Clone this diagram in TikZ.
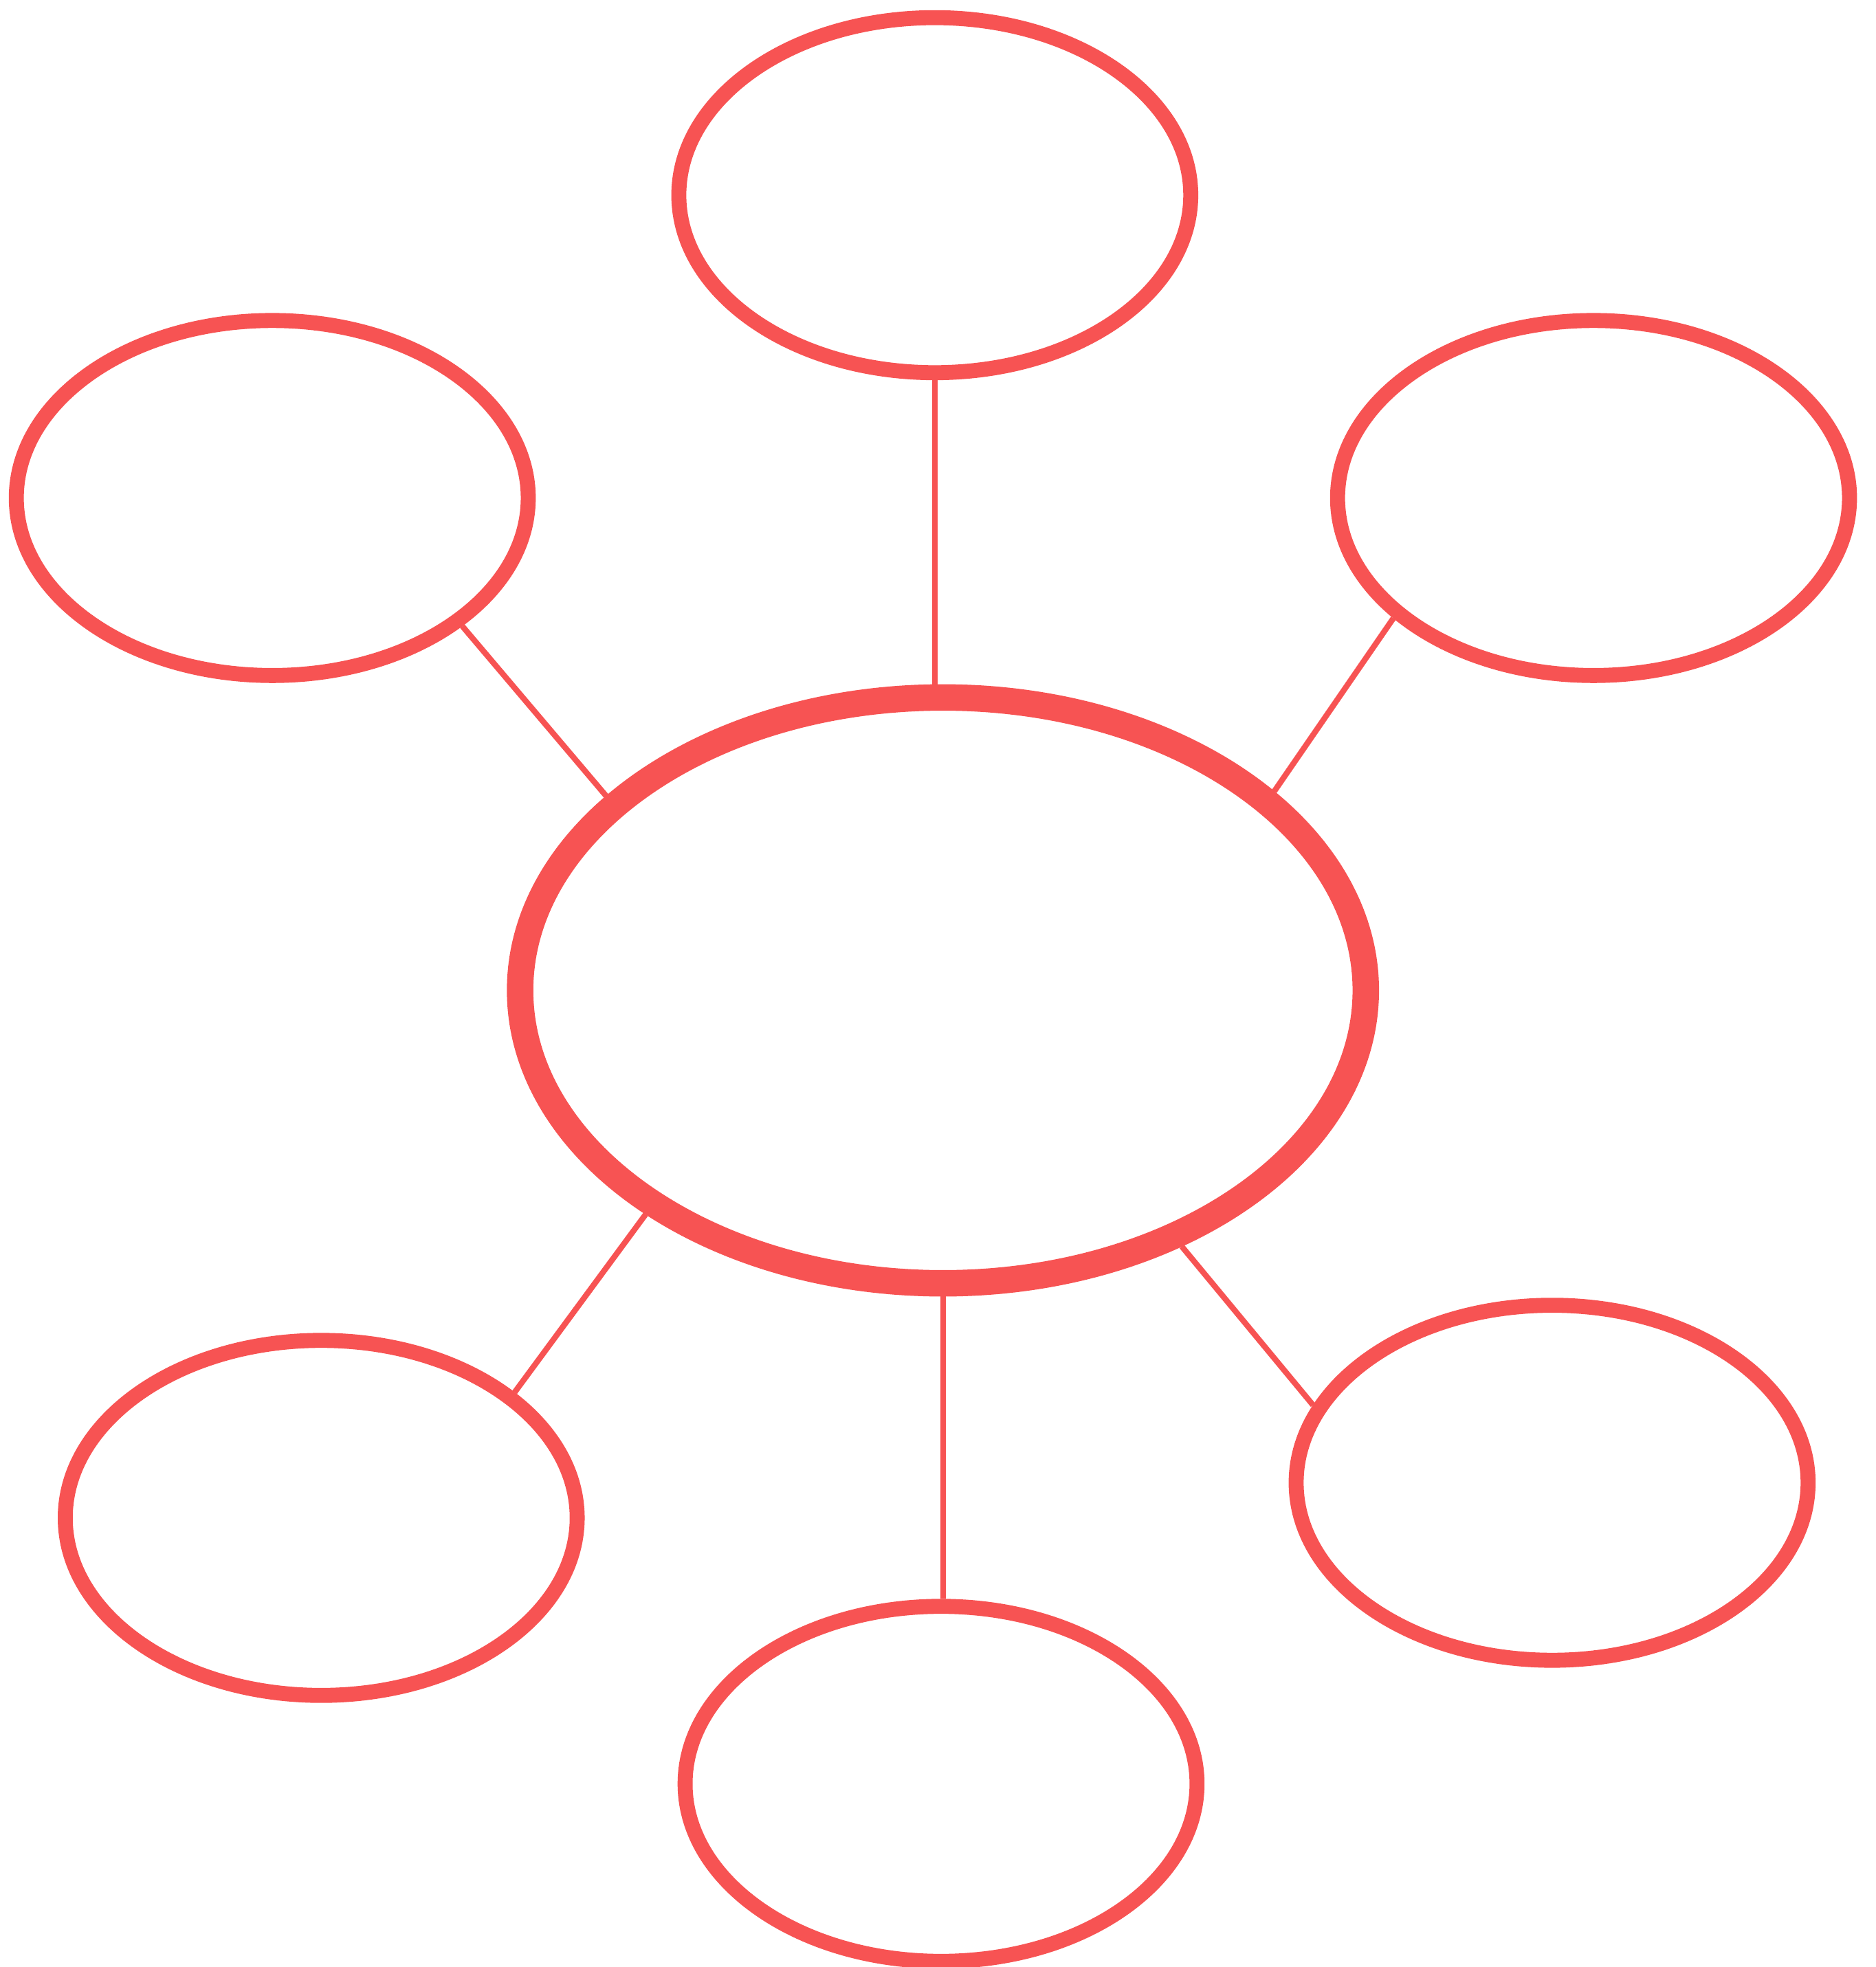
\documentclass[tikz,border=0pt]{standalone}
\usepackage{xcolor}
\usepackage{tikz}
\usetikzlibrary{shapes.geometric}
\definecolor{red}{RGB}{247,83,83}

\begin{document}
\begin{tikzpicture}[x=1cm,y=1cm,
  bubble/.style={ellipse,draw=red,line width=3.4pt,inner sep=0pt,minimum width=4.08cm,minimum height=2.83cm},
  hub/.style={ellipse,draw=red,line width=6pt,inner sep=0pt,minimum width=6.74cm,minimum height=4.67cm},
  link/.style={draw=red,line width=1.3pt}]
\useasboundingbox (0,0) rectangle (14.95,15.68);
\node[hub] (hub) at (7.515,7.785) {};
\node[bubble] (top) at (7.45,14.124) {};
\node[bubble] (ul) at (2.17,11.71) {};
\node[bubble] (ur) at (12.70,11.71) {};
\node[bubble] (ll) at (2.56,3.58) {};
\node[bubble] (bot) at (7.50,1.46) {};
\node[bubble] (lr) at (12.37,3.86) {};
% spokes
\draw[link] (top.south) -- (top.south |- hub.north);
\draw[link] (hub.south) -- (hub.south |- bot.north);
\draw[link] (ul.-34) -- (hub.150);
\draw[link] (ur.-149) -- (hub.31);
\draw[link] (ll.33) -- (hub.-143.5);
\draw[link] (lr.162.6) -- (hub.-47.8);
\end{tikzpicture}
\end{document}
